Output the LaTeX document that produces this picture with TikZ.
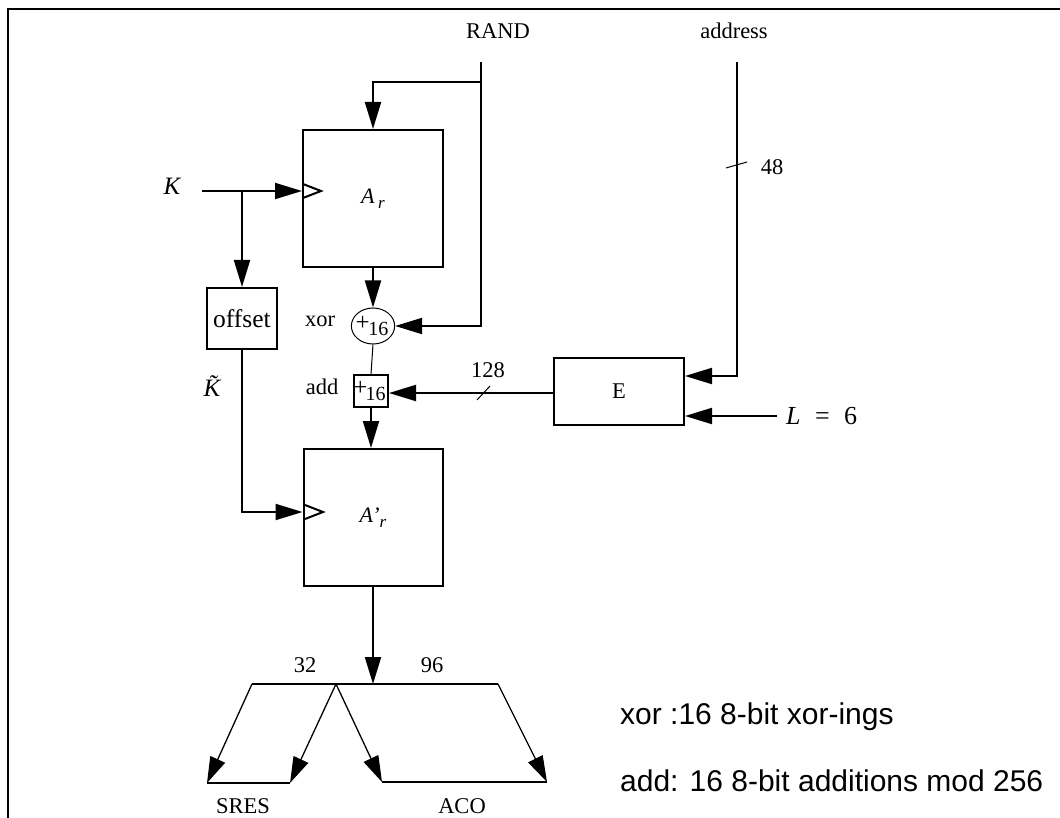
\documentclass[tikz,border=0pt]{standalone}
\usepackage{fontspec}
\setmainfont{Liberation Serif}
\newfontfamily\arialf{Liberation Sans}
\usetikzlibrary{arrows.meta,shapes.geometric}
\newcommand\sbr[1]{\raisebox{-0.45ex}{#1}}
\begin{document}
\begin{tikzpicture}[x=1pt,y=-1pt,
  box/.style={draw,line width=2pt,inner sep=0pt},
  arr/.style={line width=2pt,-{Triangle[length=27pt,width=16pt]}},
  thinarr/.style={line width=1.3pt,-{Triangle[length=26pt,width=16pt]}},
  wire/.style={line width=2pt},
  lbl/.style={font=\fontsize{22.5}{26}\selectfont,inner sep=0pt},
  plus/.style={font=\fontsize{25}{26}\selectfont},
  sans/.style={font=\arialf\fontsize{30}{34}\selectfont,inner sep=0pt,anchor=base west},
]
\useasboundingbox (0,0) rectangle (1060,818);
\draw[line width=2.5pt] (8,818) -- (8,9) -- (1060,9);

% boxes
\node[box,minimum width=140pt,minimum height=137pt,font=\fontsize{22}{26}\selectfont] (Ar) at (373,198.5) {\itshape A\,\sbr{\fontsize{17}{17}\selectfont r}};
\node[box,minimum width=139pt,minimum height=137pt,font=\fontsize{22}{26}\selectfont] (Apr) at (373,517.5) {\itshape A’\sbr{\fontsize{17}{17}\selectfont r}};
\node[box,minimum width=70pt,minimum height=61pt,font=\fontsize{25.5}{29}\selectfont] (off) at (242,318.5) {offset};
\node[box,minimum width=130pt,minimum height=67pt,lbl] (E) at (619,391.5) {E};
\node[draw,line width=1pt,ellipse,minimum width=40pt,minimum height=36pt,inner sep=0pt,plus] (xor) at (373,326) {\hspace{-2pt}+\hspace{-1.5pt}\sbr{\fontsize{20}{22}\selectfont 16}\hspace{-2pt}};
\node[box,minimum width=34pt,minimum height=32pt,plus] (add) at (371,391) {\hspace{-3pt}+\hspace{-2pt}\sbr{\fontsize{20}{22}\selectfont 16}\hspace{-3pt}};

% labels
\node[lbl] (rand) at (498,31) {RAND};
\node[lbl] (addr) at (734,31) {address};
\node[inner sep=0pt,font=\fontsize{25}{29}\selectfont\itshape] (K) at (172,186) {K};
\node[inner sep=0pt,font=\fontsize{25}{29}\selectfont\itshape] (Kt) at (212,386) {\~K};
\node[lbl] (xorl) at (320,321) {xor};
\node[lbl] (addl) at (322,387) {add};
\node[lbl] (l128) at (488,370) {128};
\node[lbl] (l48) at (772,167) {48};
\node[inner sep=0pt,font=\fontsize{26}{29}\selectfont,anchor=west] (L) at (786,416) {\textit{L}\;\;=\;\;6};
\node[lbl] (l32) at (305,665) {32};
\node[lbl] (l96) at (432,665) {96};
\node[lbl] (sres) at (243,806) {SRES};
\node[lbl] (aco) at (462,806) {ACO};
\node[sans] (t1) at (620,724) {xor :16 8-bit xor-ings};
\node[sans] (t2) at (620,791) {add: 16 8-bit additions mod 256};

% coordinates
\coordinate (randtop) at (481,62);
\coordinate (rb) at (481,82);
\coordinate (kstart) at (202,191);
\coordinate (kbr) at (242,191);
\coordinate (addrtop) at (737,62);
\coordinate (Lstart) at (777,416);
\coordinate (split) at (373,684);
\coordinate (sl) at (252,684);
\coordinate (sm) at (336,684);
\coordinate (sr) at (498,684);
\coordinate (s1) at (207,783);
\coordinate (s2) at (290,783);
\coordinate (a1) at (382,782);
\coordinate (a2) at (547,782);

% connectors
\draw[arr] (randtop) |- (xor.east);
\draw[arr] (rb) -| (Ar.north);
\draw[arr] (kstart) -- (kstart -| Ar.west);
\draw[wire] (303,184) -- (321,191) -- (303,198);
\draw[arr] (kbr) -- (off.north);
\draw[arr] (off.south) |- (Apr.west |- 0,512);
\draw[wire] (305,505) -- (323,512) -- (305,519);
\draw[arr] (Ar.south) -- (xor.north);
\draw[line width=1pt] (xor.south) -- (add.north);
\draw[arr] (add.south) -- (add.south |- Apr.north);
\draw[arr] (E.west |- 0,393) -- (add.east |- 0,393);
\draw[line width=1pt] (477,400) -- (490,386);
\draw[arr] (addrtop) |- (E.east |- 0,376);
\draw[line width=1pt] (726,168) -- (747,162);
\draw[arr] (Lstart) -- (E.east |- Lstart);
\draw[arr] (Apr.south) -- (split);
\draw[wire] (sl) -- (sr);
\draw[thinarr] (sl) -- (s1);
\draw[thinarr] (sm) -- (s2);
\draw[thinarr] (sm) -- (a1);
\draw[thinarr] (sr) -- (a2);
\draw[wire] (s1) -- (s2);
\draw[wire] (a1) -- (a2);
\end{tikzpicture}
\end{document}
